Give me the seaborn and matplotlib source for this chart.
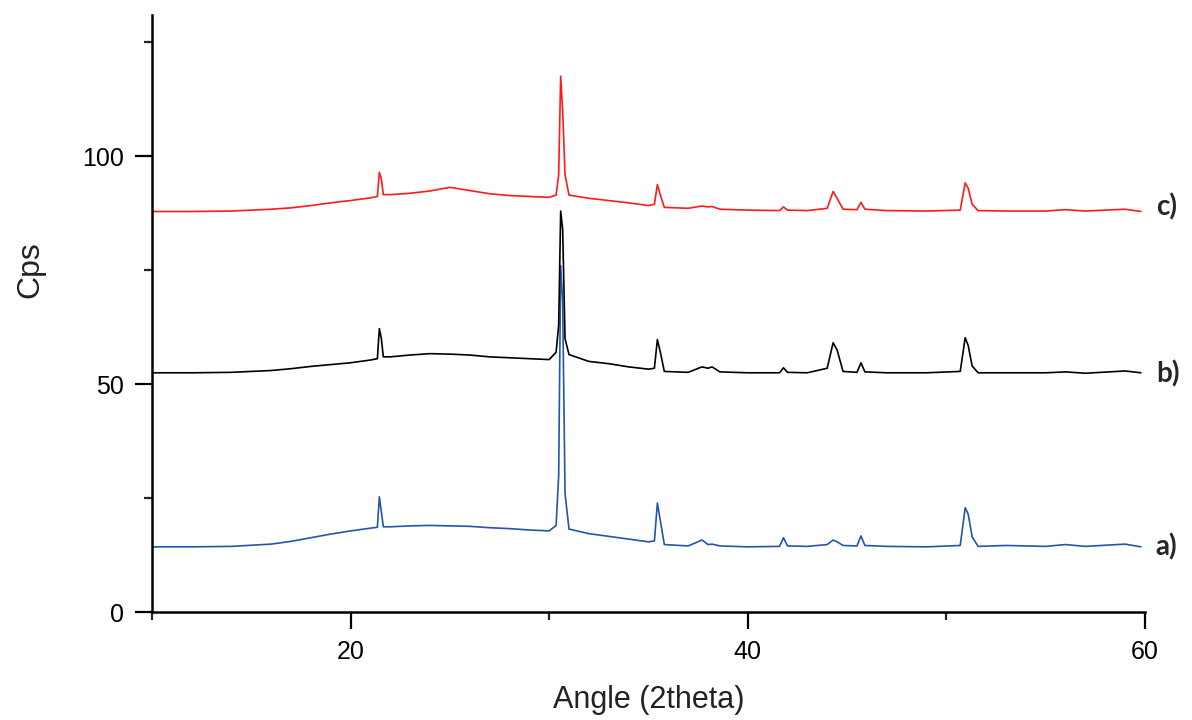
import matplotlib
matplotlib.use("Agg")
import matplotlib.pyplot as plt
import seaborn as sns
import pandas as pd
from matplotlib.ticker import MultipleLocator

angle = [10, 12, 14, 16, 17, 18, 19, 20, 21, 21.35, 21.45, 21.55, 21.65, 22, 23, 24, 25, 26, 27, 28, 29, 30,
         30.35, 30.48, 30.58, 30.68, 30.8, 31.0, 32, 33, 34, 35, 35.3, 35.45, 35.6, 35.8, 37, 37.7, 38.0, 38.2,
         38.6, 40, 41.6, 41.8, 42.0, 43, 44.0, 44.3, 44.5, 44.8, 45.5, 45.7, 45.9, 47, 49, 50.7, 50.95, 51.1,
         51.3, 51.6, 53, 55, 56, 57, 59, 59.8]

cps_c = [87.9, 87.9, 88.0, 88.4, 88.7, 89.2, 89.8, 90.3, 90.9, 91.2, 96.5, 95.0, 91.6, 91.6, 91.9, 92.4, 93.2,
         92.5, 91.8, 91.4, 91.2, 91.0, 91.5, 96.0, 117.6, 110.0, 96.0, 91.5, 90.8, 90.3, 89.8, 89.2, 89.5, 93.8,
         91.5, 88.8, 88.6, 89.1, 88.9, 89.0, 88.4, 88.2, 88.1, 88.9, 88.2, 88.1, 88.6, 92.3, 90.8, 88.4, 88.3,
         89.9, 88.4, 88.1, 88.0, 88.2, 94.2, 93.0, 89.5, 88.1, 88.0, 88.0, 88.3, 88.0, 88.4, 87.9]

cps_b = [52.5, 52.5, 52.6, 53.0, 53.4, 53.9, 54.3, 54.7, 55.3, 55.6, 62.2, 60.0, 56.0, 56.0, 56.4, 56.7, 56.6,
         56.4, 56.0, 55.8, 55.6, 55.4, 57.0, 63.0, 88.0, 84.0, 60.0, 56.5, 55.0, 54.5, 53.8, 53.3, 53.5, 59.8,
         57.0, 52.8, 52.6, 53.8, 53.5, 53.8, 52.7, 52.5, 52.5, 53.6, 52.6, 52.5, 53.5, 59.1, 57.5, 52.8, 52.6,
         54.7, 52.7, 52.5, 52.5, 52.8, 60.2, 58.5, 54.0, 52.5, 52.5, 52.5, 52.7, 52.4, 52.9, 52.5]

cps_a = [14.3, 14.3, 14.4, 14.9, 15.5, 16.3, 17.1, 17.8, 18.4, 18.6, 25.3, 22.0, 18.7, 18.7, 18.9, 19.0, 18.9,
         18.8, 18.5, 18.3, 18.0, 17.8, 19.0, 30.0, 76.0, 68.0, 26.0, 18.2, 17.2, 16.6, 16.0, 15.4, 15.6, 23.9,
         20.0, 14.8, 14.5, 15.8, 14.8, 14.9, 14.5, 14.3, 14.4, 16.3, 14.5, 14.4, 14.8, 15.8, 15.4, 14.6, 14.5,
         16.7, 14.6, 14.4, 14.3, 14.6, 22.9, 21.5, 16.5, 14.4, 14.6, 14.4, 14.8, 14.4, 14.9, 14.3]

series_labels = ["a)", "b)", "c)"]
label_y = [14.3, 52.3, 89.0]

sns.set_style("ticks")
plt.rcParams['font.family'] = ['Liberation Sans', 'DejaVu Sans']

fig = plt.figure(figsize=(11.92, 7.2), dpi=100)
ax = fig.add_axes([0.1275, 0.15, 0.833, 0.829])

df = pd.DataFrame({"angle": angle, "a": cps_a, "b": cps_b, "c": cps_c})
colors = {"a": "#2456a8", "b": "#000000", "c": "#ff1a1a"}
for key in ["a", "b", "c"]:
    sns.lineplot(data=df, x="angle", y=key, ax=ax, color=colors[key], linewidth=1.2, sort=False)

for lab, yv in zip(series_labels, label_y):
    ax.text(60.55, yv, lab, fontsize=20, fontweight='bold', family=['Lato', 'DejaVu Sans'],
            ha='left', va='center', clip_on=False)

ax.set_xlim(10, 60)
ax.set_ylim(0, 131)
ax.xaxis.set_major_locator(MultipleLocator(20))
ax.xaxis.set_minor_locator(MultipleLocator(10))
ax.yaxis.set_major_locator(MultipleLocator(50))
ax.yaxis.set_minor_locator(MultipleLocator(25))
ax.set_xticks([20, 40, 60])

ax.tick_params(which='major', direction='out', length=12, width=1.6, labelsize=18, pad=8, colors='black')
ax.tick_params(which='minor', direction='out', length=6, width=1.6)
for s in ['left', 'bottom']:
    ax.spines[s].set_linewidth(1.8)
    ax.spines[s].set_color('black')
for s in ['top', 'right']:
    ax.spines[s].set_visible(False)

ax.set_xlabel("Angle (2theta)", fontsize=22, color='#222222', va='center')
ax.set_ylabel("Cps", fontsize=23, color='#222222', va='center')
ax.xaxis.set_label_coords(0.5, -0.148)
ax.yaxis.set_label_coords(-0.122, 0.573)

fig.savefig("out.png", dpi=100)
